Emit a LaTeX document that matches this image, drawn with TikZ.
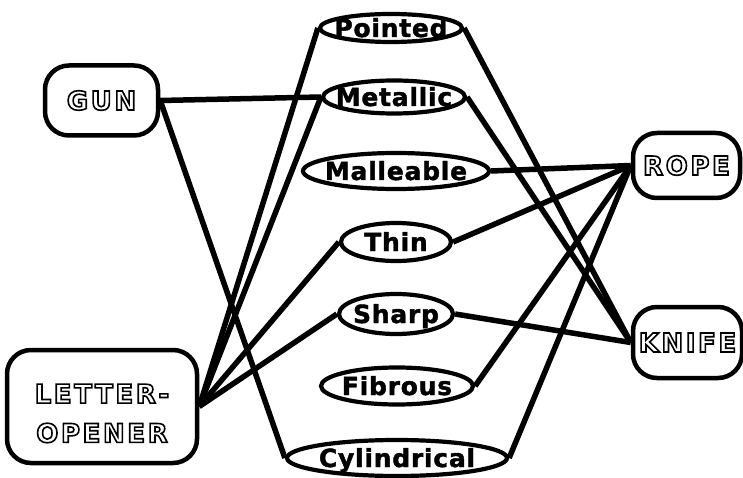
\documentclass[tikz,border=0pt]{standalone}
\usepackage{fontspec}
\usetikzlibrary{shapes.geometric}
\setmainfont{DejaVu Sans}
\newfontfamily\attrfont[LetterSpace=3,FakeBold=1.6]{DejaVu Sans}
\newfontfamily\objfont[LetterSpace=10]{DejaVu Sans}
% hollow (stroked) lettering for the object boxes
\newcommand\hollowtext[1]{\special{pdf:literal direct 1 Tr 1.6 w}#1\special{pdf:literal direct 0 Tr}}

\tikzset{
  objbox/.style={draw, line width=4.5pt, rounded corners=24pt, inner sep=0pt,
    align=center, font=\objfont\bfseries\fontsize{26}{42}\selectfont},
  attr/.style={draw, ellipse, line width=4.2pt, inner sep=0pt,
    text height=18pt, text depth=0pt,
    font=\attrfont\bfseries\fontsize{25}{28}\selectfont},
  link/.style={line width=5.5pt}
}

\begin{document}
\begin{tikzpicture}[x=1pt, y=-1pt]
\useasboundingbox (0,0) rectangle (743,478);

% objects
\node[objbox, minimum width=113pt, minimum height=70pt] (gun) at (101.5,100.5) {\hollowtext{GUN}};
\node[objbox, minimum width=190pt, minimum height=113pt] (letter) at (102,406.5)
  {\raisebox{-7pt}[\height][\depth]{\shortstack{\hollowtext{LETTER-}\\[17pt]\hollowtext{OPENER}}}};
\node[objbox, minimum width=107pt, minimum height=65pt] (rope) at (686.5,165.5) {\hollowtext{ROPE}};
\node[objbox, minimum width=109pt, minimum height=71pt] (knife) at (687.5,342.5) {\hollowtext{KNIFE}};

% attributes
\node[attr, minimum width=142pt, minimum height=28pt] (pointed) at (391,28) {\makebox[0pt]{Pointed}};
\node[attr, minimum width=142pt, minimum height=33pt] (metallic) at (394,97) {\makebox[0pt]{Metallic}};
\node[attr, minimum width=186pt, minimum height=36pt] (malleable) at (396,171) {\makebox[0pt]{Malleable}};
\node[attr, minimum width=110pt, minimum height=38pt] (thin) at (396,242) {\makebox[0pt]{Thin}};
\node[attr, minimum width=114pt, minimum height=40pt] (sharp) at (396,314) {\makebox[0pt]{Sharp}};
\node[attr, minimum width=152pt, minimum height=37pt] (fibrous) at (397,386) {\makebox[0pt]{Fibrous}};
\node[attr, minimum width=220pt, minimum height=36pt] (cylindrical) at (397,458) {\makebox[0pt]{Cylindrical}};

% links from objects to their attributes
\draw[link] (gun.east) -- (metallic.west);
\draw[link] (gun.east) -- (cylindrical.west);

\draw[link] (letter.east) -- (pointed.west);
\draw[link] (letter.east) -- (metallic.west);
\draw[link] (letter.east) -- (thin.west);
\draw[link] (letter.east) -- (sharp.west);

\draw[link] (rope.west) -- (malleable.east);
\draw[link] (rope.west) -- (thin.east);
\draw[link] (rope.west) -- (fibrous.east);
\draw[link] (rope.west) -- (cylindrical.east);

\draw[link] (knife.west) -- (pointed.east);
\draw[link] (knife.west) -- (metallic.east);
\draw[link] (knife.west) -- (sharp.east);
\end{tikzpicture}
\end{document}
